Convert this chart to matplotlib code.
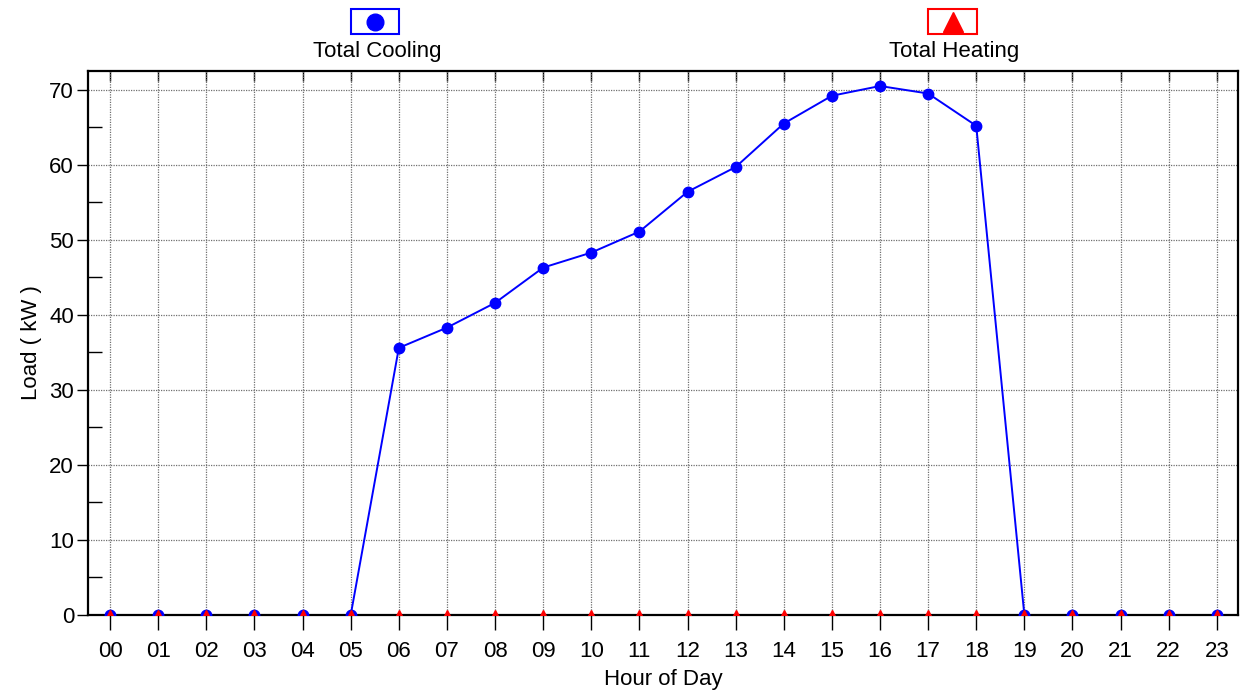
import matplotlib
matplotlib.use('Agg')
import matplotlib.pyplot as plt
from matplotlib.patches import Rectangle
from matplotlib.lines import Line2D
from matplotlib.ticker import MultipleLocator

plt.rcParams['font.family'] = ['Liberation Sans Narrow', 'Liberation Sans', 'DejaVu Sans']

# --- dati ---
hours = ['00', '01', '02', '03', '04', '05', '06', '07', '08', '09', '10', '11',
         '12', '13', '14', '15', '16', '17', '18', '19', '20', '21', '22', '23']
cooling = [0, 0, 0, 0, 0, 0, 35.6, 38.3, 41.6, 46.3, 48.3, 51.1,
           56.4, 59.7, 65.5, 69.2, 70.5, 69.5, 65.2, 0, 0, 0, 0, 0]
heating = [0] * 24

W, H = 1243, 694
FS = 16
fig = plt.figure(figsize=(W / 100, H / 100), dpi=100)
ax = fig.add_axes([88 / W, 1 - 615 / H, (1238 - 88) / W, (615 - 71) / H])

x = list(range(len(hours)))
# linee sotto la cornice, marcatori sopra
ax.plot(x, cooling, color='#0000ff', lw=1.4, zorder=2)
ax.plot(x, heating, color='#ff0000', lw=1.0, zorder=2.1)
ax.plot(x, cooling, color='#0000ff', ls='none', marker='o', ms=7.5, zorder=3)
ax.plot(x, heating, color='#ff0000', ls='none', marker='^', ms=6.5, zorder=3.1)

ax.set_xlim(-0.46, 23.44)
ax.set_ylim(0, 72.5)
ax.set_xticks(x)
ax.set_xticklabels(hours)
ax.yaxis.set_major_locator(MultipleLocator(10))
ax.yaxis.set_minor_locator(MultipleLocator(5))

ax.grid(True, which='major', color='#707070', ls=(0, (1, 1)), lw=0.9)
for s in ax.spines.values():
    s.set_linewidth(1.6)

ax.tick_params(axis='x', which='major', direction='out', length=11, width=1,
               labelsize=FS, pad=8, top=False)
ax.tick_params(axis='y', which='major', direction='out', length=8, width=1,
               labelsize=FS, pad=2)
ax.tick_params(axis='y', which='minor', direction='in', length=10, width=1)
# tacche in alto verso l'interno
sec = ax.secondary_xaxis('top')
sec.set_xticks(x)
sec.tick_params(direction='in', length=7, width=1, labeltop=False)
sec.spines['top'].set_visible(False)

ax.set_xlabel('Hour of Day', fontsize=FS, labelpad=5)
ax.set_ylabel('Load ( kW )', fontsize=FS, labelpad=5)

# --- legenda sopra il grafico ---
def legend_item(x0, x1, color, marker, ms, label):
    fig.add_artist(Rectangle((x0 / W, 1 - 34 / H), (x1 - x0) / W, 25 / H,
                             transform=fig.transFigure, fill=False,
                             edgecolor=color, lw=1.5))
    fig.add_artist(Line2D([(x0 + x1) / 2 / W], [1 - 21.5 / H], marker=marker,
                          ms=ms, color=color, ls='none',
                          transform=fig.transFigure))
    fig.text((x0 + x1) / 2 / W + 2 / W, 1 - 51 / H, label, fontsize=FS,
             ha='center', va='center')

legend_item(351, 399, '#0000ff', 'o', 12, 'Total Cooling')
legend_item(928, 977, '#ff0000', '^', 14, 'Total Heating')

fig.savefig('out.png', dpi=100)
